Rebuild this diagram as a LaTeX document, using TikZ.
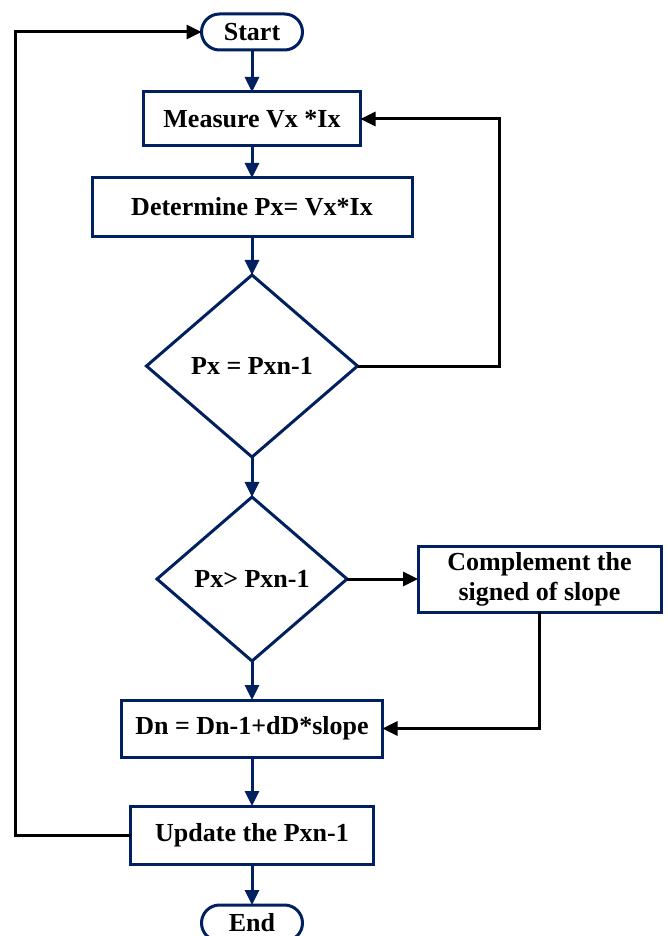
\documentclass[tikz,border=0pt]{standalone}
\usepackage{fontspec}
\setmainfont{Liberation Serif}
\usepackage{tikz}
\usetikzlibrary{positioning,arrows.meta,shapes.geometric}
\usepackage{xcolor}
\definecolor{navy}{RGB}{0,32,96}

\begin{document}
\begin{tikzpicture}[x=1pt, y=-1pt, every node/.style={outer sep=0pt},
  box/.style={draw=navy, line width=3pt, align=center, font=\fontsize{26}{30}\selectfont\bfseries, minimum width=#1, minimum height=56pt, inner sep=2pt},
  box/.default=240pt,
  term/.style={draw=navy, line width=3pt, rounded corners=18pt, minimum width=101pt, minimum height=36pt, inner sep=0pt, font=\fontsize{26}{30}\selectfont\bfseries},
  dec/.style={draw=navy, line width=3pt, diamond, inner sep=0pt, font=\fontsize{26}{30}\selectfont\bfseries},
  arr/.style={-{Triangle[length=15pt, width=14pt]}, line width=3pt, navy},
  back/.style={-{Triangle[length=15pt, width=14pt]}, line width=3pt, black}]
\useasboundingbox (0,0) rectangle (667,936);
\node[term] (start) at (252,32) {Start};
\node[box=217pt, minimum height=54pt, below=42pt of start] (meas) {Measure Vx *Ix};
\node[box=320pt, minimum height=58pt, below=32pt of meas] (det) {Determine Px= Vx*Ix};
\node[dec, minimum width=211pt, minimum height=182pt, below=39pt of det] (eq) {Px = Pxn-1};
\node[dec, minimum width=190pt, minimum height=164pt, below=40pt of eq] (gt) {Px> Pxn-1};
\node[box=243pt, minimum height=66pt, right=71pt of gt] (comp) {Complement the\\ signed of slope};
\node[box=261pt, minimum height=57pt, below=39pt of gt] (dn) {Dn = Dn-1+dD*slope};
\node[box=243pt, minimum height=58pt, below=49pt of dn] (upd) {Update the Pxn-1};
\node[term, below=41pt of upd] (end) {End};
\draw[arr] (start) -- (meas);
\draw[arr] (meas) -- (det);
\draw[arr] (det) -- (eq);
\draw[arr] (eq) -- (gt);
\draw[arr] (gt) -- (dn);
\draw[arr] (dn) -- (upd);
\draw[arr] (upd) -- (end);
\draw[back] (gt.east) -- (comp.west);
\draw[back] (comp.south) |- (dn.east);
\draw[back] (eq.east) -- ++(142,0) |- (meas.east);
\draw[back] (upd.west) -- ++(-115,0) |- (start.west);
\end{tikzpicture}
\end{document}
